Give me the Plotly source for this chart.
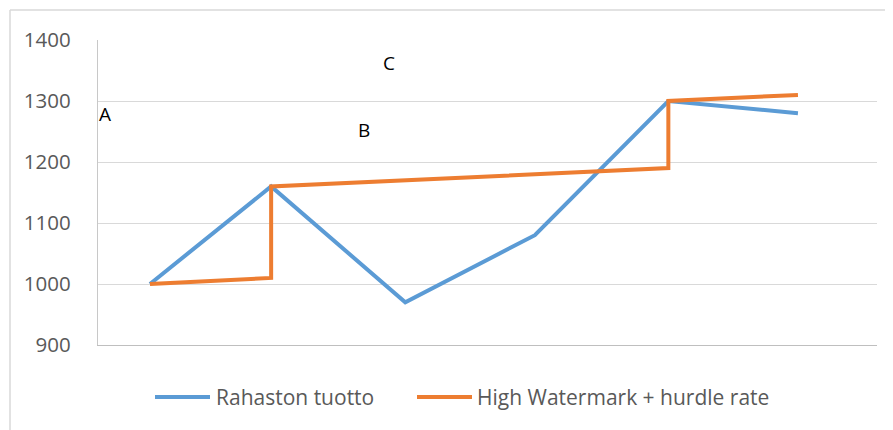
import plotly.graph_objects as go

# Data
periods_fund = [0, 0.935, 1.97, 2.97, 4.0, 5.0]
fund_values = [1000, 1160, 970, 1080, 1300, 1280]
periods_hwm = [0, 0.935, 0.935, 4.0, 4.0, 5.0]
hwm_values = [1000, 1010, 1160, 1190, 1300, 1310]
series_names = ["Rahaston tuotto", "High Watermark + hurdle rate"]
series_colors = ["#5B9BD5", "#ED7D31"]
y_ticks = [900, 1000, 1100, 1200, 1300, 1400]
point_labels = ["A", "B", "C"]
label_x = [-0.347, 1.651, 1.844]
label_y = [1279, 1252, 1362]

# page body has an 8px margin; work in screen pixels and convert
OFF = 8
W, H = 893 - OFF, 430 - OFF
PL, PR, PT, PB = 98, 877, 40, 345  # plot area in screen pixels
L = PL - OFF
R = W - (PR - OFF)
T = PT - OFF
B = H - (PB - OFF)
pw = PR - PL
ph = PB - PT

def px2paper_x(px):
    return (px - PL) / pw

def py2paper_y(py):
    return (PB - py) / ph

fig = go.Figure()
fig.add_trace(go.Scatter(x=periods_fund, y=fund_values, mode="lines",
                         name=series_names[0],
                         line=dict(color=series_colors[0], width=4)))
fig.add_trace(go.Scatter(x=periods_hwm, y=hwm_values, mode="lines",
                         name=series_names[1],
                         line=dict(color=series_colors[1], width=4)))

font_family = "Open Sans"
annotations = []
for t, x, y in zip(point_labels, label_x, label_y):
    annotations.append(dict(x=x, y=y, xref="x", yref="y", text=t, showarrow=False,
                            font=dict(family=font_family, size=19, color="#000000"),
                            xanchor="center", yanchor="middle"))

# Legend (drawn manually for exact placement)
leg_y = py2paper_y(397)
leg_items = [(155, 210, 214), (417, 472, 475)]
shapes = []
for (x0, x1, xt), name, col in zip(leg_items, series_names, series_colors):
    shapes.append(dict(type="line", xref="paper", yref="paper",
                       x0=px2paper_x(x0), x1=px2paper_x(x1), y0=leg_y, y1=leg_y,
                       line=dict(color=col, width=4)))
    annotations.append(dict(x=px2paper_x(xt), y=leg_y, xref="paper", yref="paper",
                            text=name, showarrow=False, xanchor="left", yanchor="middle",
                            font=dict(family=font_family, size=21, color="#595959")))

# Chart area border (top and left edges visible)
shapes.append(dict(type="line", xref="paper", yref="paper",
                   x0=px2paper_x(10), x1=px2paper_x(900), y0=py2paper_y(10), y1=py2paper_y(10),
                   line=dict(color="#D9D9D9", width=1.5)))
shapes.append(dict(type="line", xref="paper", yref="paper",
                   x0=px2paper_x(10), x1=px2paper_x(10), y0=py2paper_y(10), y1=py2paper_y(440),
                   line=dict(color="#D9D9D9", width=1.5)))

fig.update_layout(
    width=W, height=H,
    margin=dict(l=L, r=R, t=T, b=B, pad=0),
    paper_bgcolor="white", plot_bgcolor="white",
    showlegend=False,
    shapes=shapes,
    annotations=annotations,
    font=dict(family=font_family, color="#595959"),
)
fig.update_xaxes(range=[-0.401, 5.61], showgrid=False, zeroline=False,
                 showticklabels=False, showline=True, linecolor="#BFBFBF", linewidth=1.3,
                 fixedrange=True)
fig.update_yaxes(range=[900, 1400], tickvals=y_ticks, showgrid=True,
                 gridcolor="#D9D9D9", gridwidth=1.3, zeroline=False,
                 showline=True, linecolor="#C8C8C8", linewidth=1.3,
                 tickfont=dict(family=font_family, size=20.5, color="#595959"),
                 ticklabelstandoff=22, fixedrange=True)

fig.write_html("out.html")
